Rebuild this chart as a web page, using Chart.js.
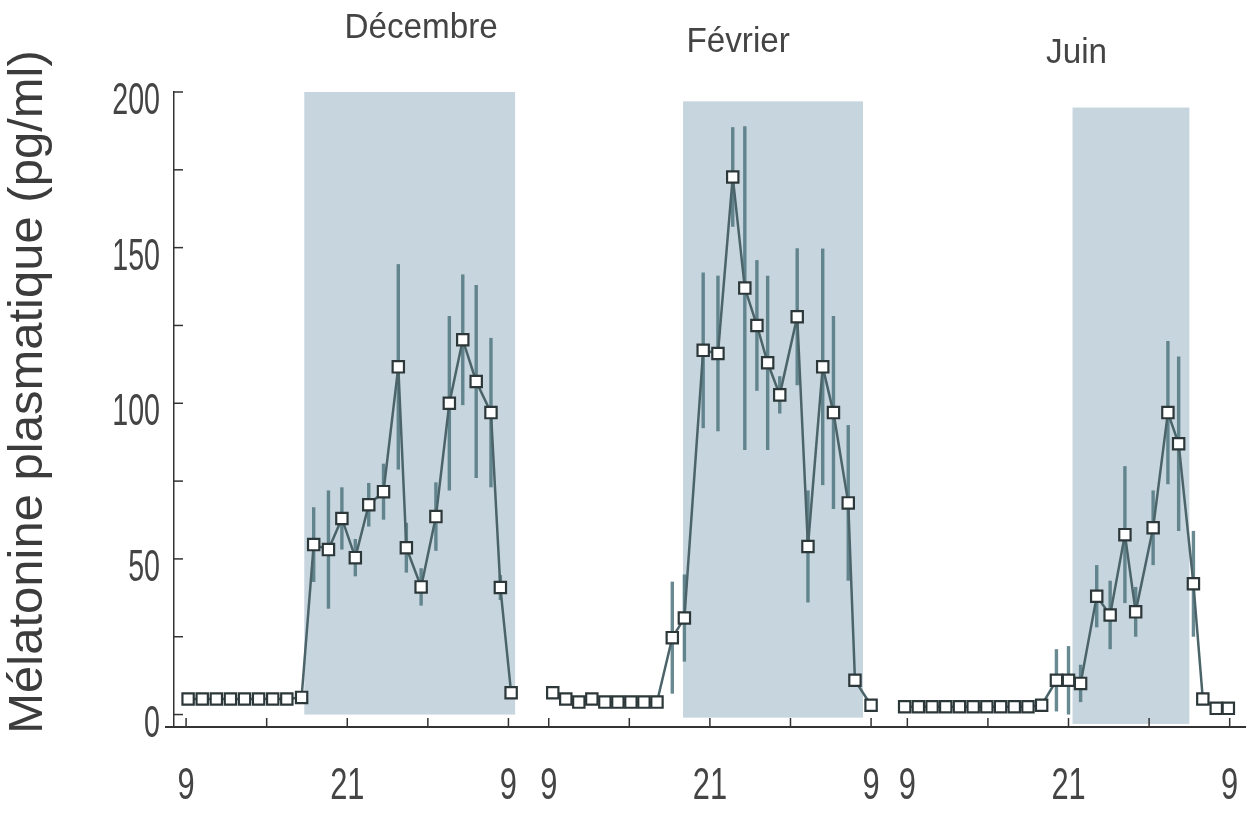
<!DOCTYPE html>
<html>
<head>
<meta charset="utf-8">
<script src="https://cdn.jsdelivr.net/npm/chart.js@4.4.0/dist/chart.umd.min.js"></script>
<style>
  body { margin: 0; background: #fff; }
  #wrap { width: 1256px; height: 832px; }
</style>
</head>
<body>
<div id="wrap"><canvas id="chart" width="1256" height="832"></canvas></div>
<script>
// 3 panneaux (mois), axe x = heures depuis 9h
const panelNames = ['Décembre', 'Février', 'Juin'];
const panelOffset = [0, 27, 53.7];
const titleHour = [17.5, 14.1, 12.6];
const titleLevel = [220.5, 216, 212.5];

// nuit (zone grisée)
const nightStart = [8.8, 10.0, 12.3];
const nightEnd = [24.5, 23.4, 21.0];
const nightTop = [200, 197, 195];
const nightBottom = [0, -1, -3];

// Décembre
const decHours = [0.15, 1.2, 2.25, 3.3, 4.35, 5.4, 6.45, 7.5, 8.6, 9.5, 10.6, 11.6, 12.6, 13.6, 14.7, 15.8, 16.4, 17.5, 18.6, 19.6, 20.6, 21.6, 22.7, 23.4, 24.2];
const decValues = [5, 5, 5, 5, 5, 5, 5, 5, 5.5, 54.6, 53, 63, 50.4, 67.4, 71.6, 111.7, 53.6, 41, 63.6, 100, 120.4, 107, 97, 40.8, 7];
const decErr = [0, 0, 0, 0, 0, 0, 0, 0, 0, 12, 19, 10, 6, 7, 9, 33, 8, 6, 11, 28, 21, 31, 24, 4, 0];

// Février
const febHours = [0.3, 1.27, 2.24, 3.21, 4.18, 5.15, 6.12, 7.09, 8.06, 9.2, 10.1, 11.5, 12.6, 13.7, 14.6, 15.5, 16.3, 17.2, 18.5, 19.3, 20.4, 21.2, 22.3, 22.8, 24.0];
const febValues = [7, 5, 4, 5, 4, 4, 4, 4, 4, 24.7, 31, 117, 116, 172.7, 137, 125, 113, 102.7, 127.8, 54, 111.7, 97, 68, 11, 3];
const febErr = [0, 0, 0, 0, 0, 0, 0, 0, 0, 18, 14, 25, 25, 16, 52, 21, 28, 6, 22, 18, 38, 31, 25, 0, 0];

// Juin
const junHours = [-0.2, 0.82, 1.84, 2.86, 3.88, 4.9, 5.92, 6.94, 7.96, 8.98, 10.0, 11.1, 12.0, 12.9, 14.1, 15.1, 16.2, 17.0, 18.3, 19.4, 20.2, 21.3, 22.0, 23.0, 23.9];
const junValues = [2.5, 2.5, 2.5, 2.5, 2.5, 2.5, 2.5, 2.5, 2.5, 2.5, 3, 11, 11, 10, 38, 32, 57.8, 33, 60, 97, 87, 42, 5, 2, 2];
const junErr = [0, 0, 0, 0, 0, 0, 0, 0, 0, 0, 0, 10, 11, 6, 10, 11, 22, 8, 12, 23, 28, 17, 0, 0, 0];

// graduations
const yTicks = [0, 50, 100, 150, 200];
const yMarks = [0, 25, 50, 75, 100, 125, 150, 175, 200];
const xTickHours = [0, 12, 24];
const xTickLabels = ['9', '21', '9'];
const xMarkHours = [0, 6, 12, 18, 24];
const yTitle = 'Mélatonine plasmatique (pg/ml)';

const series = [
  { hours: decHours, values: decValues, err: decErr },
  { hours: febHours, values: febValues, err: febErr },
  { hours: junHours, values: junValues, err: junErr }
];

const sans = "'Liberation Sans', Arial, sans-serif";

// texte étroit (comme la police de la figure)
function narrowText(ctx, text, x, y, align, squeeze) {
  ctx.save();
  ctx.translate(x, y);
  ctx.scale(squeeze, 1);
  ctx.textAlign = align;
  ctx.fillText(text, 0, 0);
  ctx.restore();
}

const nightPlugin = {
  id: 'night',
  beforeDatasetsDraw(chart) {
    const { ctx, scales: { x, y } } = chart;
    ctx.save();
    // zones de nuit
    ctx.fillStyle = '#c7d5de';
    for (let p = 0; p < 3; p++) {
      const x1 = x.getPixelForValue(panelOffset[p] + nightStart[p]);
      const x2 = x.getPixelForValue(panelOffset[p] + nightEnd[p]);
      const y1 = y.getPixelForValue(nightTop[p]);
      const y2 = y.getPixelForValue(nightBottom[p]);
      ctx.fillRect(x1, y1, x2 - x1, y2 - y1);
    }
    // barres d'erreur
    ctx.strokeStyle = 'rgba(80, 118, 127, 0.85)';
    ctx.lineWidth = 3.4;
    series.forEach((s, p) => {
      s.hours.forEach((h, i) => {
        if (!s.err[i]) return;
        const px = x.getPixelForValue(panelOffset[p] + h);
        ctx.beginPath();
        ctx.moveTo(px, y.getPixelForValue(s.values[i] + s.err[i]));
        ctx.lineTo(px, y.getPixelForValue(Math.max(s.values[i] - s.err[i], 0)));
        ctx.stroke();
      });
    });
    ctx.restore();
  },
  afterDraw(chart) {
    const { ctx, chartArea, scales: { x, y } } = chart;
    ctx.save();
    ctx.strokeStyle = '#333';
    ctx.lineWidth = 1.5;
    // petites graduations vers l'intérieur
    yMarks.forEach(v => {
      const py = y.getPixelForValue(v);
      ctx.beginPath();
      ctx.moveTo(chartArea.left, py);
      ctx.lineTo(chartArea.left + 9, py);
      ctx.stroke();
    });
    panelOffset.forEach(off => {
      xMarkHours.forEach(h => {
        const px = x.getPixelForValue(off + h);
        ctx.beginPath();
        ctx.moveTo(px, chartArea.bottom);
        ctx.lineTo(px, chartArea.bottom - 9);
        ctx.stroke();
      });
    });
    // l'axe x dépasse un peu à gauche
    ctx.lineWidth = 2;
    ctx.beginPath();
    ctx.moveTo(chartArea.left - 9, chartArea.bottom);
    ctx.lineTo(chartArea.left, chartArea.bottom);
    ctx.stroke();

    // étiquettes des axes
    ctx.fillStyle = '#444';
    ctx.font = '44px ' + sans;
    ctx.textBaseline = 'middle';
    yTicks.forEach(v => {
      narrowText(ctx, String(v), chartArea.left - 14, y.getPixelForValue(v) + 10, 'right', 0.65);
    });
    panelOffset.forEach(off => {
      xTickHours.forEach((h, i) => {
        narrowText(ctx, xTickLabels[i], x.getPixelForValue(off + h), chartArea.bottom + 60, 'center', 0.7);
      });
    });

    // titre de l'axe y
    ctx.save();
    ctx.translate(28, 392);
    ctx.rotate(-Math.PI / 2);
    ctx.font = '49px ' + sans;
    ctx.fillStyle = '#3c3c3c';
    ctx.textAlign = 'center';
    ctx.fillText(yTitle, 0, 0);
    ctx.restore();

    // titres des mois
    ctx.fillStyle = '#444';
    ctx.font = '35px ' + sans;
    panelNames.forEach((name, p) => {
      narrowText(ctx, name, x.getPixelForValue(panelOffset[p] + titleHour[p]), y.getPixelForValue(titleLevel[p]), 'center', 0.95);
    });
    ctx.restore();
  }
};

const datasets = series.map((s, p) => ({
  data: s.hours.map((h, i) => ({ x: panelOffset[p] + h, y: s.values[i] })),
  borderColor: '#4b6469',
  borderWidth: 2.5,
  pointStyle: 'rect',
  pointRadius: 8,
  pointBackgroundColor: '#ffffff',
  pointBorderColor: '#2c3739',
  pointBorderWidth: 2.2,
  tension: 0
}));

new Chart(document.getElementById('chart'), {
  type: 'line',
  data: { datasets: datasets },
  plugins: [nightPlugin],
  options: {
    responsive: false,
    animation: false,
    layout: { padding: { top: 92, left: 0, right: 0, bottom: 0 } },
    plugins: { legend: { display: false }, tooltip: { enabled: false } },
    scales: {
      x: {
        type: 'linear',
        min: -0.9,
        max: 78.9,
        afterFit: s => {
          s.height = 105;
          s.paddingLeft = 0;
          s.paddingRight = 0;
        },
        grid: { display: false, drawTicks: false },
        border: { display: true, color: '#333', width: 2 },
        ticks: { display: false }
      },
      y: {
        min: -4,
        max: 200,
        afterFit: s => {
          s.width = 174;
          s.paddingTop = 0;
          s.paddingBottom = 0;
        },
        grid: { display: false, drawTicks: false },
        border: { display: true, color: '#333', width: 1.5 },
        ticks: { display: false }
      }
    }
  }
});
</script>
</body>
</html>
